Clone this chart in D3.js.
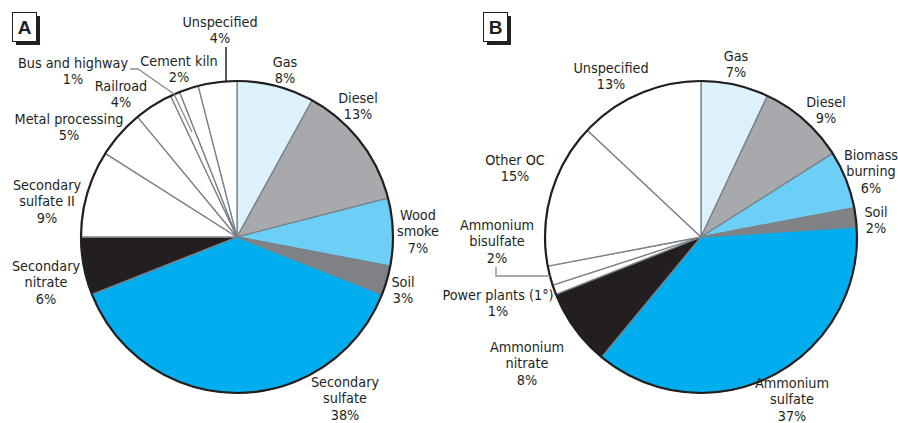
<!DOCTYPE html>
<meta charset="utf-8">
<style>
body{margin:0;background:#fff;}
text{font-family:"DejaVu Sans Condensed","DejaVu Sans",sans-serif;font-stretch:condensed;font-size:14.3px;fill:#231f20;}
</style>
<body>
<div id="container"></div>
<script src="https://d3js.org/d3.v7.min.js"></script>
<script>

var width = 898,
    height = 423;

// pie A
var categoriesA = ["Gas","Diesel","Wood smoke","Soil","Secondary sulfate","Secondary nitrate",
                   "Secondary sulfate II","Metal processing","Railroad","Bus and highway","Cement kiln","Unspecified"];
var valuesA = [8,13,7,3,38,6,9,5,4,1,2,4];

// pie B
var categoriesB = ["Gas","Diesel","Biomass burning","Soil","Ammonium sulfate","Ammonium nitrate",
                   "Power plants (1\u00b0)","Ammonium bisulfate","Other OC","Unspecified"];
var valuesB = [7,9,6,2,37,8,1,2,15,13];

var fills = {
  "Gas":"#ddf1fc","Diesel":"#a7a9ac","Wood smoke":"#6dcff6","Biomass burning":"#6dcff6",
  "Soil":"#808285","Secondary sulfate":"#00aeef","Ammonium sulfate":"#00aeef",
  "Secondary nitrate":"#231f20","Ammonium nitrate":"#231f20"
};

// label layout: line breaks, center x/y of first line relative to pie center
var layoutA = {
  "Gas":[["Gas"],48,-175],
  "Diesel":[["Diesel"],121,-139],
  "Wood smoke":[["Wood","smoke"],181,-22],
  "Soil":[["Soil"],166,45],
  "Secondary sulfate":[["Secondary","sulfate"],108,145],
  "Secondary nitrate":[["Secondary","nitrate"],-191,29],
  "Secondary sulfate II":[["Secondary","sulfate II"],-190,-52],
  "Metal processing":[["Metal processing"],-168,-118],
  "Railroad":[["Railroad"],-116,-151],
  "Bus and highway":[["Bus and highway"],-164,-174],
  "Cement kiln":[["Cement kiln"],-58,-176],
  "Unspecified":[["Unspecified"],-17,-215]
};
var layoutB = {
  "Gas":[["Gas"],35,-181],
  "Diesel":[["Diesel"],125,-135],
  "Biomass burning":[["Biomass","burning"],170,-82],
  "Soil":[["Soil"],175,-25],
  "Ammonium sulfate":[["Ammonium","sulfate"],91,146],
  "Ammonium nitrate":[["Ammonium","nitrate"],-174,110],
  "Power plants (1\u00b0)":[["Power plants (1\u00b0)"],-203,58],
  "Ammonium bisulfate":[["Ammonium","bisulfate"],-204,-12],
  "Other OC":[["Other OC"],-186,-77],
  "Unspecified":[["Unspecified"],-90,-169]
};

var radius = 156;

var svg = d3.select("#container").append("svg")
    .attr("width", width)
    .attr("height", height);

var pie = d3.pie().sort(null).value(function(d){ return d.value; });
var arc = d3.arc().innerRadius(0).outerRadius(radius);

function drawPie(cx, cy, letter, bx, categories, values, layout, leaders) {
  var data = categories.map(function(c, i){ return {name:c, value:values[i]}; });
  var g = svg.append("g").attr("transform", "translate(" + cx + "," + cy + ")");

  g.selectAll("path.slice")
      .data(pie(data))
    .enter().append("path")
      .attr("class", "slice")
      .attr("d", arc)
      .style("fill", function(d){ return fills[d.data.name] || "#fff"; })
      .style("stroke", "#7a8287")
      .style("stroke-width", 1.3)
      .style("stroke-linejoin", "round");

  g.append("circle")
      .attr("r", radius)
      .style("fill", "none")
      .style("stroke", "#231f20")
      .style("stroke-width", 2.2);

  // leader lines
  leaders.forEach(function(pts){
    g.append("path")
        .attr("d", d3.line()(pts))
        .style("fill", "none")
        .style("stroke", pts.dark ? "#231f20" : "#8a8d90")
        .style("stroke-width", pts.dark ? 1.5 : 1.3);
  });

  data.forEach(function(d){
    var lay = layout[d.name];
    var lines = lay[0].concat([d.value + "%"]);
    var t = g.append("text")
        .attr("text-anchor", "middle")
        .attr("x", lay[1])
        .attr("y", lay[2]);
    lines.forEach(function(l, i){
      t.append("tspan")
          .attr("x", lay[1])
          .attr("dy", i ? 16.3 : 5)
          .text(l);
    });
  });

  // panel letter box
  var b = svg.append("g").attr("transform", "translate(" + bx + ",12)");
  b.append("rect").attr("x", 4).attr("y", 4).attr("width", 24).attr("height", 29).style("fill", "#231f20");
  b.append("rect").attr("x", 0.5).attr("y", 0.5).attr("width", 24).attr("height", 29)
      .style("fill", "#fff").style("stroke", "#231f20").style("stroke-width", 1);
  b.append("text").attr("x", 12.5).attr("y", 22).attr("text-anchor", "middle")
      .style("font-family", "'Liberation Sans',Arial,sans-serif").style("font-weight", "bold")
      .style("font-size", "19px").text(letter);
}

// leader for Unspecified (vertical) and Bus and highway in A
var leadA = [];
var l1 = [[-11, -190], [-11, -Math.sqrt(radius*radius - 121)]]; l1.dark = true;
var l2 = [[-107, -168], [-99, -168], [-63, -143], [-45, -105]];
leadA.push(l1, l2);

var leadB = [[[-205, 30], [-205, 39], [-151, 39]]];

drawPie(237, 237, "A", 12, categoriesA, valuesA, layoutA, leadA);
drawPie(701, 237, "B", 483, categoriesB, valuesB, layoutB, leadB);

</script>
</body>
</html>
